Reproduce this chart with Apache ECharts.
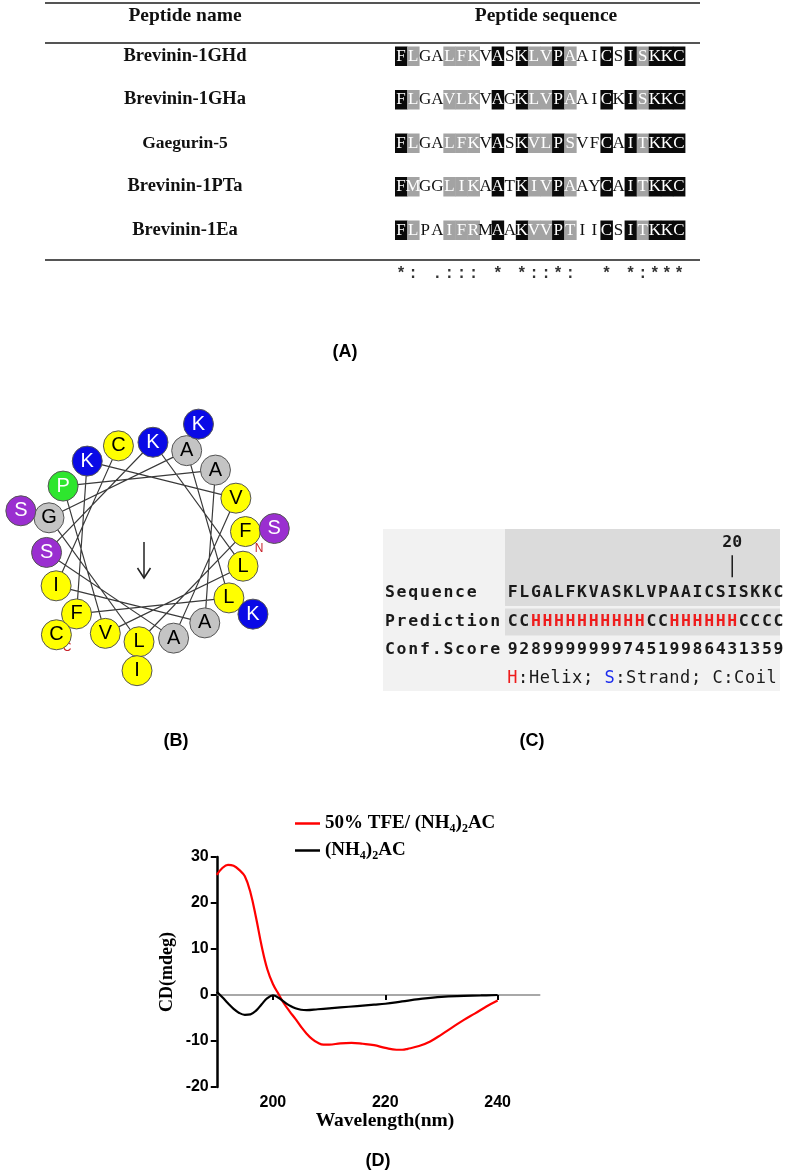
<!DOCTYPE html>
<html><head><meta charset="utf-8">
<script src="https://cdn.jsdelivr.net/npm/echarts@6/dist/echarts.min.js"></script>
<style>html,body{margin:0;padding:0;background:#fff}#c{width:800px;height:1176px}</style>
</head><body><div id="c"></div>
<script>
// ---------- Panel A: alignment ----------
const peptideNames = ['Brevinin-1GHd', 'Brevinin-1GHa', 'Gaegurin-5', 'Brevinin-1PTa', 'Brevinin-1Ea'];
const peptideSeqs = [
  'FLGALFKVASKLVPAAICSISKKC',
  'FLGAVLKVAGKLVPAAICKISKKC',
  'FLGALFKVASKVLPSVFCAITKKC',
  'FMGGLIKAATKIVPAAYCAITKKC',
  'FLPAIFRMAAKVVPTIICSITKKC'
];
const shading = 'BG..GGG.B.BGGBG..B.BGBBB';   // B = black box, G = grey box
const consensus = '*: .::: * *::*:  * *:***';

// ---------- Panel B: helical wheel ----------
const wheelSeq = 'FLGALFKVASKLVPAAICSISKKC';
const wheelStep = 100;      // degrees per residue
const wheelStart = 6;       // angle of residue 1

// ---------- Panel C: secondary structure ----------
const ssSeq  = 'FLGALFKVASKLVPAAICSISKKC';
const ssPred = 'CCHHHHHHHHHHCCHHHHHHCCCC';
const ssConf = '928999999974519986431359';
const ssMark = 20;
const ssLabels = ['Sequence', 'Prediction', 'Conf.Score'];
const ssLegend = 'H:Helix; S:Strand; C:Coil';

// ---------- Panel D: CD spectra ----------
const wlTFE = [190,191,192,193,194,195,196,197,198,199,200,201,202,203,204,205,206,207,208,209,210,212,214,216,218,220,222,223,224,226,228,230,232,234,236,238,240];
const cdTFE = [26.1,27.6,28.3,28.1,27.2,25.8,22.3,16.8,10.6,5.6,2.4,0.2,-1.9,-3.6,-5.2,-6.9,-8.4,-9.6,-10.4,-10.8,-10.8,-10.5,-10.4,-10.6,-10.9,-11.5,-11.9,-11.9,-11.7,-11.1,-10.1,-8.6,-7.0,-5.4,-4.0,-2.5,-1.2];
const wlAC = [190,191,192,193,194,195,196,197,198,199,200,201,202,203,204,205,206,208,210,212,215,218,220,223,226,230,234,237,240];
const cdAC = [0.7,-0.5,-1.8,-3.0,-3.9,-4.3,-4.2,-3.4,-2.0,-0.7,-0.1,-0.6,-1.5,-2.3,-2.9,-3.2,-3.3,-3.1,-2.9,-2.7,-2.4,-2.1,-1.9,-1.4,-0.9,-0.4,-0.2,-0.1,0.0];
const xTicks = [200, 220, 240];

// ================= build =================
const chart = echarts.init(document.getElementById('c'));

// Panel A cells
const cellsA = [];
peptideSeqs.forEach((s, r) => {
  s.split('').forEach((ch, c) => cellsA.push({col: c, row: r, ch: ch, kind: shading[c]}));
});
consensus.split('').forEach((ch, c) => { if (ch !== ' ') cellsA.push({col: c, row: 5, ch: ch, kind: 'X'}); });

// Panel C cells
const W = 11.55, cSeqLeft = 507, cRow0 = 593, cRowH = 28.6;
const labStep = 11.7, labLeft = 384;
const cellsC = [];
ssLabels.forEach((lab, r) => lab.split('').forEach((ch, k) => cellsC.push({x: (labLeft + (k + 0.5) * labStep - cSeqLeft) / W, row: r, ch: ch, fill: '#1a1a1a'})));
ssSeq.split('').forEach((ch, k) => cellsC.push({x: k + 0.5, row: 0, ch: ch, fill: '#1a1a1a'}));
ssPred.split('').forEach((ch, k) => cellsC.push({x: k + 0.5, row: 1, ch: ch, fill: ch === 'H' ? '#ee1c1c' : '#1a1a1a'}));
ssConf.split('').forEach((ch, k) => cellsC.push({x: k + 0.5, row: 2, ch: ch, fill: '#1a1a1a'}));
const legendColors = {0: '#ee1c1c', 9: '#1c2cee'};
const legCells = ssLegend.split('').map((ch, k) => ({x: (k * 10.8 + 5.4) / W, row: 3, ch: ch, fill: legendColors[k] || '#1a1a1a'}));

// Panel B
const resColor = ch => {
  if ('FLVICMYW'.includes(ch)) return ['#ffff00', '#000'];
  if ('AG'.includes(ch)) return ['#c4c4c4', '#000'];
  if ('KR'.includes(ch)) return ['#0a0ae6', '#fff'];
  if ('ST'.includes(ch)) return ['#9a2fd0', '#fff'];
  if (ch === 'P') return ['#2ee62e', '#fff'];
  return ['#fff', '#000'];
};
const wheelAngle = i => (((wheelStart - i * wheelStep) % 360) + 360) % 360;
const wheelPts = wheelSeq.split('').map((ch, i) => {
  const col = resColor(ch);
  return {value: [i < 18 ? 100 : 129, wheelAngle(i)], itemStyle: {color: col[0]}, label: {color: col[1]}};
});
const wheelLine = wheelSeq.split('').slice(0, 18).map((ch, i) => [100, wheelAngle(i)]);

const serifB = '"Liberation Serif", "Times New Roman", serif';
const sansB = '"Liberation Sans", Arial, sans-serif';
const monoB = '"DejaVu Sans Mono", monospace';

const option = {
  animation: false,
  backgroundColor: '#fff',
  grid: [
    {left: 395, top: 34.25, width: 290, height: 261},
    {left: cSeqLeft - 10.5 * W, top: cRow0 - 2.5 * cRowH, width: 35 * W, height: 6 * cRowH},
    {left: 216.75, top: 857, width: 323, height: 230}
  ],
  polar: {center: [146, 542], radius: 130},
  angleAxis: {type: 'value', min: 0, max: 360, startAngle: 0, clockwise: false, show: false},
  radiusAxis: {type: 'value', min: 0, max: 130, show: false},
  xAxis: [
    {gridIndex: 0, type: 'value', min: 0, max: 24, show: false},
    {gridIndex: 1, type: 'value', min: -10.5, max: 24.5, show: false},
    {gridIndex: 2, type: 'value', min: 190, max: 247.5,
      axisLine: {show: true, onZero: true, lineStyle: {color: '#8c8c8c', width: 1.5}},
      axisTick: {show: true, customValues: xTicks, length: 5, lineStyle: {color: '#000', width: 2}},
      axisLabel: {customValues: xTicks, margin: 8, color: '#000', fontSize: 16, fontWeight: 'bold', fontFamily: sansB},
      splitLine: {show: false}}
  ],
  yAxis: [
    {gridIndex: 0, type: 'category', inverse: true, data: peptideNames.concat(['']),
      axisLine: {show: false}, axisTick: {show: false}, splitLine: {show: false},
      axisLabel: {margin: 210, align: 'center', color: '#111', fontFamily: serifB, fontWeight: 'bold', fontSize: 18.5,
        formatter: (v, i) => i === 2 ? '{s|' + v + '}' : v,
        rich: {s: {fontSize: 17.5, fontWeight: 'bold', fontFamily: serifB, color: '#111'}}}},
    {gridIndex: 1, type: 'value', min: -2.5, max: 3.5, inverse: true, show: false},
    {gridIndex: 2, type: 'value', min: -20, max: 30, interval: 10,
      axisLine: {show: true, onZero: false, lineStyle: {color: '#000', width: 2.5}},
      axisTick: {show: true, length: 6, lineStyle: {color: '#000', width: 2}},
      axisLabel: {margin: 8, color: '#000', fontSize: 16, fontWeight: 'bold', fontFamily: sansB},
      splitLine: {show: false},
      name: 'CD(mdeg)', nameLocation: 'middle', nameGap: 40,
      nameTextStyle: {fontFamily: serifB, fontWeight: 'bold', fontSize: 18, color: '#000'}}
  ],
  legend: {
    left: 290, top: 809, orient: 'vertical', selectedMode: false, icon: 'rect',
    itemWidth: 25, itemHeight: 2.5, itemGap: 6,
    data: ['tfe', 'ac'],
    formatter: n => n === 'tfe' ? '{t|50% TFE/ (NH}{s|4}{t|)}{s|2}{t|AC}' : '{t|(NH}{s|4}{t|)}{s|2}{t|AC}',
    textStyle: {rich: {
      t: {fontFamily: serifB, fontWeight: 'bold', fontSize: 19, lineHeight: 23, color: '#000', verticalAlign: 'middle'},
      s: {fontFamily: serifB, fontWeight: 'bold', fontSize: 12, lineHeight: 10, color: '#000', verticalAlign: 'bottom'}
    }}
  },
  graphic: [
    // table rules
    {type: 'line', shape: {x1: 45, y1: 3, x2: 700, y2: 3}, style: {stroke: '#555', lineWidth: 2}},
    {type: 'line', shape: {x1: 45, y1: 43, x2: 700, y2: 43}, style: {stroke: '#555', lineWidth: 2}},
    {type: 'line', shape: {x1: 45, y1: 260, x2: 700, y2: 260}, style: {stroke: '#555', lineWidth: 2}},
    {type: 'text', x: 185, y: 16, style: {text: 'Peptide name', font: 'bold 19.5px ' + serifB, fill: '#111', textAlign: 'center', textVerticalAlign: 'middle'}},
    {type: 'text', x: 546, y: 16, style: {text: 'Peptide sequence', font: 'bold 19.5px ' + serifB, fill: '#111', textAlign: 'center', textVerticalAlign: 'middle'}},
    // panel labels
    {type: 'text', x: 345, y: 352, style: {text: '(A)', font: 'bold 18px ' + sansB, fill: '#000', textAlign: 'center', textVerticalAlign: 'middle'}},
    {type: 'text', x: 176, y: 741, style: {text: '(B)', font: 'bold 18px ' + sansB, fill: '#000', textAlign: 'center', textVerticalAlign: 'middle'}},
    {type: 'text', x: 532, y: 741, style: {text: '(C)', font: 'bold 18px ' + sansB, fill: '#000', textAlign: 'center', textVerticalAlign: 'middle'}},
    {type: 'text', x: 378, y: 1161, style: {text: '(D)', font: 'bold 18px ' + sansB, fill: '#000', textAlign: 'center', textVerticalAlign: 'middle'}},
    // panel C backgrounds
    {type: 'rect', z: 0, shape: {x: 383, y: 529, width: 397, height: 162}, style: {fill: '#f2f2f2'}},
    {type: 'rect', z: 0, shape: {x: 505, y: 529, width: 275, height: 77}, style: {fill: '#dbdbdb'}},
    {type: 'rect', z: 0, shape: {x: 505, y: 608.5, width: 275, height: 27}, style: {fill: '#dddddd'}},
    // wheel arrow and termini
    {type: 'polyline', shape: {points: [[144, 542], [144, 578]]}, style: {stroke: '#222', lineWidth: 1.5}},
    {type: 'polyline', shape: {points: [[137.5, 568], [144, 578], [150.5, 568]]}, style: {stroke: '#222', lineWidth: 1.5, fill: null}},
    {type: 'text', x: 259, y: 549, style: {text: 'N', font: '12px ' + sansB, fill: '#c8232b', textAlign: 'center', textVerticalAlign: 'middle'}},
    {type: 'text', x: 67, y: 648, style: {text: 'C', font: '12px ' + sansB, fill: '#c8232b', textAlign: 'center', textVerticalAlign: 'middle'}},
    // x axis title
    {type: 'text', x: 385, y: 1121, style: {text: 'Wavelength(nm)', font: 'bold 19.5px ' + serifB, fill: '#000', textAlign: 'center', textVerticalAlign: 'middle'}}
  ],
  series: [
    // Panel A
    {type: 'custom', xAxisIndex: 0, yAxisIndex: 0, data: cellsA.map(c => [c.col + 0.5, c.row]),
      renderItem: (params, api) => {
        const c = cellsA[params.dataIndex];
        const p = api.coord([c.col + 0.5, c.row]);
        const w = api.size([1, 0])[0];
        const ch = [];
        if (c.kind === 'B' || c.kind === 'G') {
          ch.push({type: 'rect', shape: {x: p[0] - w / 2, y: p[1] - 9.5, width: w + 0.4, height: 19.5},
            style: {fill: c.kind === 'B' ? '#0a0a0a' : '#a3a3a3'}});
        }
        if (c.kind === 'X') {
          ch.push({type: 'text', x: p[0], y: p[1], style: {text: c.ch, fill: '#333', font: 'bold 16px "Liberation Mono", monospace', textAlign: 'center', textVerticalAlign: 'middle'}});
        } else {
          ch.push({type: 'text', x: p[0], y: p[1] + 0.5, style: {text: c.ch, fill: c.kind === '.' ? '#111' : '#fff', font: '17px ' + serifB, textAlign: 'center', textVerticalAlign: 'middle'}});
        }
        return {type: 'group', children: ch};
      }},
    // Panel C characters
    {type: 'custom', xAxisIndex: 1, yAxisIndex: 1, z: 5, data: cellsC.map(c => [c.x, c.row]),
      renderItem: (params, api) => {
        const c = cellsC[params.dataIndex];
        const p = api.coord([c.x, c.row]);
        return {type: 'text', x: p[0], y: p[1], style: {text: c.ch, fill: c.fill, font: 'bold 16.5px ' + monoB, textAlign: 'center', textVerticalAlign: 'middle'}};
      }},
    {type: 'custom', xAxisIndex: 1, yAxisIndex: 1, z: 5, data: legCells.map(c => [c.x, c.row]),
      renderItem: (params, api) => {
        const c = legCells[params.dataIndex];
        const p = api.coord([c.x, c.row]);
        return {type: 'text', x: p[0], y: p[1], style: {text: c.ch, fill: c.fill, font: '17px ' + monoB, textAlign: 'center', textVerticalAlign: 'middle'}};
      }},
    {type: 'custom', xAxisIndex: 1, yAxisIndex: 1, z: 5, data: [[ssMark - 0.5, -1.75]],
      renderItem: (params, api) => {
        const p = api.coord([ssMark - 0.5, -1.75]);
        const a = api.coord([ssMark - 0.5, -1.32]);
        const b = api.coord([ssMark - 0.5, -0.55]);
        return {type: 'group', children: [
          {type: 'text', x: p[0], y: p[1], style: {text: String(ssMark), fill: '#1a1a1a', font: 'bold 16.5px ' + monoB, textAlign: 'center', textVerticalAlign: 'middle'}},
          {type: 'line', shape: {x1: a[0], y1: a[1], x2: b[0], y2: b[1]}, style: {stroke: '#1a1a1a', lineWidth: 1.5}}
        ]};
      }},
    // Panel B
    {type: 'line', coordinateSystem: 'polar', polarIndex: 0, data: wheelLine, showSymbol: false, symbol: 'none',
      lineStyle: {color: '#3a3a3a', width: 1.2}, z: 1, silent: true},
    {type: 'scatter', coordinateSystem: 'polar', polarIndex: 0, data: wheelPts, symbolSize: 30, z: 3,
      itemStyle: {borderColor: '#555', borderWidth: 1, opacity: 1},
      label: {show: true, position: 'inside', formatter: p => wheelSeq[p.dataIndex], fontSize: 20, fontFamily: sansB}},
    // Panel D
    {name: 'tfe', type: 'line', xAxisIndex: 2, yAxisIndex: 2, data: wlTFE.map((w, i) => [w, cdTFE[i]]),
      smooth: 0.4, showSymbol: false, symbol: 'none', lineStyle: {color: '#ff0000', width: 2.2}, itemStyle: {color: '#ff0000'}},
    {name: 'ac', type: 'line', xAxisIndex: 2, yAxisIndex: 2, data: wlAC.map((w, i) => [w, cdAC[i]]),
      smooth: 0.4, showSymbol: false, symbol: 'none', lineStyle: {color: '#000', width: 2.2}, itemStyle: {color: '#000'}}
  ]
};
chart.setOption(option);
</script>
</body></html>
